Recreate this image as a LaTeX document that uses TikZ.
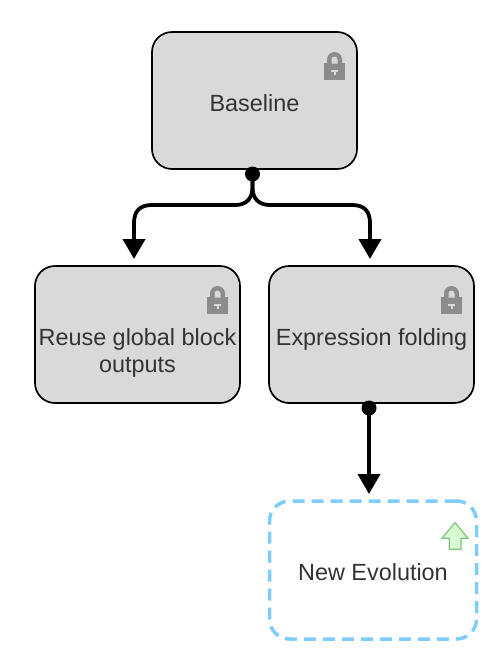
\documentclass[tikz,border=0pt]{standalone}
\usepackage{fontspec}
\setmainfont{Liberation Sans}
\usetikzlibrary{arrows.meta}
\definecolor{boxfill}{HTML}{D9D9D9}
\definecolor{txt}{HTML}{333333}
\definecolor{lockc}{HTML}{8C8C8C}
\definecolor{dashc}{HTML}{80CCFF}
\definecolor{upfill}{HTML}{D8FCD4}
\definecolor{updraw}{HTML}{82C37F}
\tikzset{
  x=1pt,y=-1pt,
  txtbase/.style={font=\fontsize{23.4}{27}\selectfont,text=txt,align=center,inner sep=0pt},
  lockedbox/.style={txtbase,draw=black,line width=1.7pt,fill=boxfill,rounded corners=20pt,minimum width=205pt,minimum height=137pt,text height=21pt,text depth=0pt},
  newbox/.style={txtbase,draw=dashc,line width=3.5pt,rounded corners=20pt,minimum width=207pt,minimum height=138pt,dash pattern=on 12pt off 7pt,text height=21pt,text depth=0pt},
  dotn/.style={circle,fill=black,inner sep=0pt,minimum size=15pt},
  conn/.style={draw=black,line width=3.8pt,-{Triangle[length=20pt,width=22pt]},shorten >=0pt},
}
\newcommand{\lockicon}[1]{%
  \begin{scope}[shift={(#1)}]
    \fill[lockc] (-10.5,-3) rectangle (10.5,14);
    \fill[lockc] (-7.5,-2) -- (-7.5,-6.5) arc[start angle=180,end angle=0,x radius=7.5,y radius=-7.5] -- (7.5,-2) -- cycle;
    \fill[boxfill] (-3,-2.5) -- (-3,-6.5) arc[start angle=180,end angle=0,x radius=3,y radius=-3] -- (3,-2.5) -- cycle;
    \fill[boxfill] (-3.5,4) rectangle (3.5,6);
    \fill[boxfill] (-1,4) rectangle (1,9);
  \end{scope}}
\begin{document}
\begin{tikzpicture}
\useasboundingbox (0,0) rectangle (494,656);
\node[lockedbox] (base) at (254.5,100.5) {Baseline};
\node[lockedbox,text height=75pt] (reuse) at (137.5,334.5) {Reuse global block\\outputs};
\node[lockedbox] (expr) at (371.5,334.5) {Expression folding};
\node[newbox] (evo) at (373,570) {New Evolution};
\lockicon{334.5,66}
\lockicon{217.5,300}
\lockicon{451.5,300}
\draw[updraw,fill=upfill,line width=1.2pt,line join=miter] (455,522.5) -- (468,538.3) -- (461,538.3) -- (461,549.3) -- (449.3,549.3) -- (449.3,538.3) -- (442,538.3) -- cycle;
\node[dotn] (d1) at (252.5,174) {};
\node[dotn] (d2) at (369,408) {};
\coordinate (t1) at (134,259);
\coordinate (t2) at (370,259);
\coordinate (t3) at (369,494);
\draw[conn] (d1.center) -- (252.5,187) .. controls (252.5,199) and (246,205) .. (235,205) -- (152,205) .. controls (140,205) and (134,211) .. (134,223) -- (t1);
\draw[conn] (d1.center) -- (252.5,187) .. controls (252.5,199) and (259,205) .. (270,205) -- (352,205) .. controls (364,205) and (370,211) .. (370,223) -- (t2);
\draw[conn] (d2.center) -- (t3);
\end{tikzpicture}
\end{document}
